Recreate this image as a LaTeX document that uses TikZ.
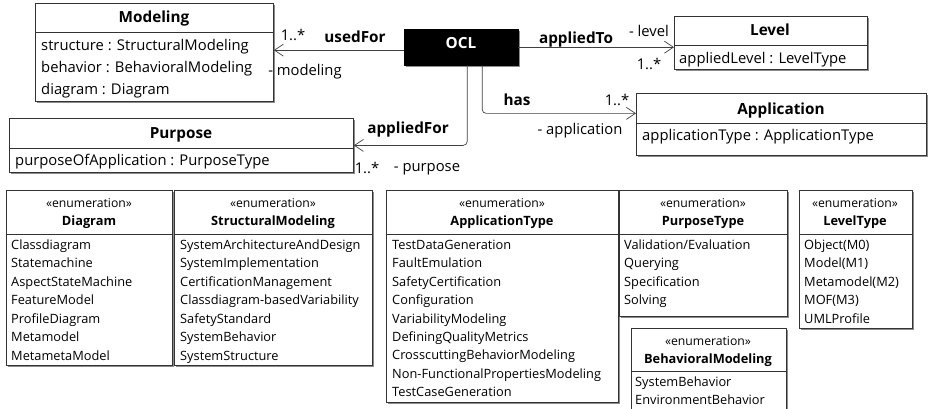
\documentclass[tikz,border=0pt]{standalone}
\usepackage{fontspec}
\setmainfont{Open Sans}
\usetikzlibrary{arrows.meta,shadows}
\begin{document}
\begin{tikzpicture}[x=1pt,y=-1pt,
  umlbox/.style={draw=black!80, fill=white, line width=0.8pt, anchor=north west, inner sep=0pt,
    drop shadow={shadow xshift=1.6pt, shadow yshift=-1.6pt, fill=black!45, opacity=1}},
  oclbox/.style={draw=black, fill=black, anchor=north west, inner sep=0pt,
    drop shadow={shadow xshift=1.6pt, shadow yshift=-1.6pt, fill=black!45, opacity=1}},
  sep/.style={draw=black!80, line width=0.8pt},
  txt/.style={inner sep=0pt, font=\fontsize{14.8}{17}\selectfont, text height=11pt, text depth=3.5pt},
  attr/.style={txt, anchor=west},
  ttl/.style={inner sep=0pt, font=\fontsize{15.3}{18}\selectfont\bfseries, text height=11.5pt, text depth=3.5pt},
  eitem/.style={inner sep=0pt, anchor=west, font=\fontsize{12.8}{15}\selectfont, text height=9.5pt, text depth=3pt},
  ettl/.style={inner sep=0pt, font=\fontsize{12.8}{15}\selectfont\bfseries, text height=9.5pt, text depth=3pt},
  stereo/.style={inner sep=0pt, font=\fontsize{12.2}{14}\selectfont, text height=9pt, text depth=3pt},
  assoc/.style={draw=black!75, line width=0.7pt, -{Straight Barb[length=9pt,width=12pt]}},
  lbl/.style={txt},
  blbl/.style={ttl}
]
\useasboundingbox (0,0) rectangle (928,409);

% ---------- upper classes ----------
\node[umlbox, minimum width=238pt, minimum height=98pt] (modeling) at (35,3) {};
\draw[sep] (35,32) -- (273,32);
\node[ttl] (modelingT) at (154,19) {Modeling};
\node[attr] (m1) at (41,47) {structure : StructuralModeling};
\node[attr] (m2) at (41,69) {behavior : BehavioralModeling};
\node[attr] (m3) at (41,91) {diagram : Diagram};

\node[umlbox, minimum width=193pt, minimum height=53pt] (level) at (674,16) {};
\draw[sep] (674,45) -- (867,45);
\node[ttl] (levelT) at (770,32) {Level};
\node[attr] (l1) at (679,60) {appliedLevel : LevelType};

\node[umlbox, minimum width=290pt, minimum height=62pt] (application) at (636,93) {};
\draw[sep] (636,123) -- (926,123);
\node[ttl] (applicationT) at (781,110) {Application};
\node[attr] (a1) at (642,137) {applicationType : ApplicationType};

\node[umlbox, minimum width=344pt, minimum height=54pt] (purpose) at (9,118) {};
\draw[sep] (9,148) -- (353,148);
\node[ttl] (purposeT) at (181,135) {Purpose};
\node[attr] (p1) at (15,162) {purposeOfApplication : PurposeType};

\node[oclbox, minimum width=114pt, minimum height=36pt] (ocl) at (404,29) {};
\node[ttl, text=white] (oclT) at (461,45) {OCL};

% ---------- connectors ----------
\coordinate (u1) at ([yshift=-3pt]ocl.west);
\draw[assoc] (u1) -- (u1 -| modeling.east);
\node[lbl] (uA) at (293,37) {1..*};
\node[blbl] (uB) at (355,39) {usedFor};
\node[lbl] (uC) at (305,72) {- modeling};

\draw[assoc] (ocl.east) -- (ocl.east -| level.west);
\node[blbl] (tA) at (576,40) {appliedTo};
\node[lbl] (tB) at (649,33) {- level};
\node[lbl] (tC) at (649,66) {1..*};

\coordinate (h0) at ([xshift=21pt]ocl.south);
\coordinate (h1) at ([yshift=11pt]application.west);
\draw[assoc, rounded corners=4pt] (h0) |- (h1);
\node[blbl] (hA) at (517,102) {has};
\node[lbl] (hB) at (617,102) {1..*};
\node[lbl] (hC) at (580,131) {- application};

\coordinate (f0) at ([xshift=6pt]ocl.south);
\draw[assoc, rounded corners=4pt] (f0) |- (purpose.east);
\node[blbl] (fA) at (408,129) {appliedFor};
\node[lbl] (fB) at (367,170) {1..*};
\node[lbl] (fC) at (427,168) {- purpose};

% ---------- enumerations ----------
% Diagram
\node[umlbox, minimum width=166pt, minimum height=175pt] (diagram) at (6,190) {};
\draw[sep] (6,234) -- (172,234);
\node[stereo] (dS) at (89,204) {«enumeration»};
\node[ettl] (dT) at (89,222) {Diagram};
\foreach \t [count=\i from 0] in {Classdiagram,Statemachine,AspectStateMachine,FeatureModel,ProfileDiagram,Metamodel,MetametaModel}
  \node[eitem] (d\i) at (11,{246+18.5*\i}) {\t};

% StructuralModeling
\node[umlbox, minimum width=198pt, minimum height=175pt] (structural) at (174,190) {};
\draw[sep] (174,234) -- (372,234);
\node[stereo] (sS) at (273,204) {«enumeration»};
\node[ettl] (sT) at (273,222) {StructuralModeling};
\foreach \t [count=\i from 0] in {SystemArchitectureAndDesign,SystemImplementation,CertificationManagement,Classdiagram-basedVariability,SafetyStandard,SystemBehavior,SystemStructure}
  \node[eitem] (s\i) at (180,{246+18.5*\i}) {\t};

% ApplicationType
\node[umlbox, minimum width=232pt, minimum height=212pt] (apptype) at (386,190) {};
\draw[sep] (386,234) -- (618,234);
\node[stereo] (aS) at (502,204) {«enumeration»};
\node[ettl] (aT) at (502,222) {ApplicationType};
\foreach \t [count=\i from 0] in {TestDataGeneration,FaultEmulation,SafetyCertification,Configuration,VariabilityModeling,DefiningQualityMetrics,CrosscuttingBehaviorModeling,Non-FunctionalPropertiesModeling,TestCaseGeneration}
  \node[eitem] (at\i) at (392,{246+18.45*\i}) {\t};

% PurposeType
\node[umlbox, minimum width=168pt, minimum height=126pt] (purptype) at (619,190) {};
\draw[sep] (619,234) -- (787,234);
\node[stereo] (pS) at (703,204) {«enumeration»};
\node[ettl] (pT) at (703,222) {PurposeType};
\foreach \t [count=\i from 0] in {Validation/Evaluation,Querying,Specification,Solving}
  \node[eitem] (pt\i) at (624,{246+18.5*\i}) {\t};

% LevelType
\node[umlbox, minimum width=113pt, minimum height=138pt] (leveltype) at (799,190) {};
\draw[sep] (799,234) -- (912,234);
\node[stereo] (lS) at (855,204) {«enumeration»};
\node[ettl] (lT) at (855,222) {LevelType};
\foreach \t [count=\i from 0] in {Object(M0),Model(M1),Metamodel(M2),MOF(M3),UMLProfile}
  \node[eitem] (lt\i) at (804,{246+18.5*\i}) {\t};

% BehavioralModeling
\begin{scope}
\clip (0,0) rectangle (928,409);
\node[umlbox, minimum width=155pt, minimum height=95pt] (behavioral) at (631,328) {};
\draw[sep] (631,371) -- (786,371);
\node[stereo] (bS) at (708,342) {«enumeration»};
\node[ettl] (bT) at (708,360) {BehavioralModeling};
\node[eitem] (b0) at (635,383) {SystemBehavior};
\node[eitem] (b1) at (635,401) {EnvironmentBehavior};
\end{scope}
\end{tikzpicture}
\end{document}
